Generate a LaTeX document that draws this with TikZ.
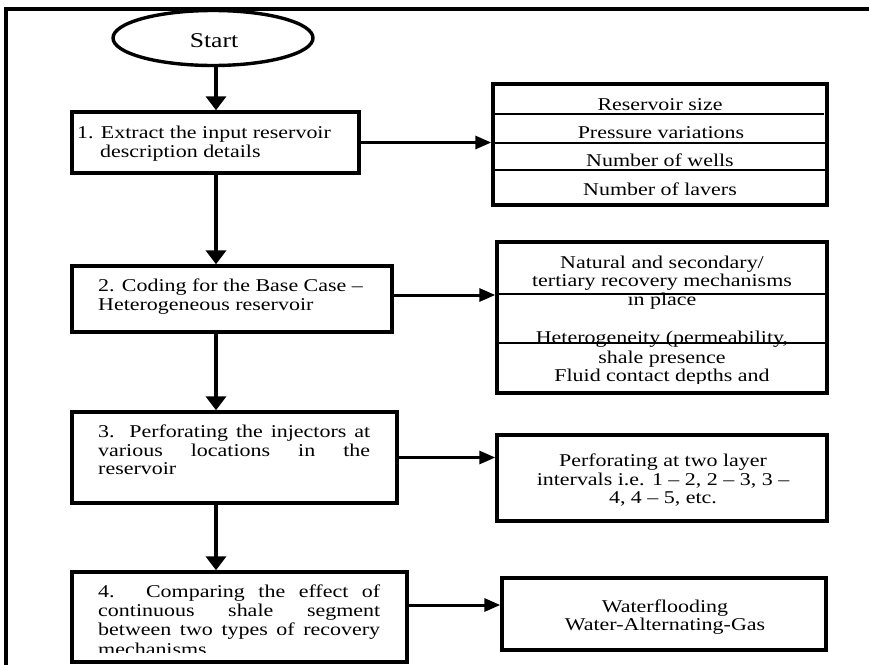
\documentclass[tikz,border=0pt]{standalone}
\usepackage{fontspec}
\setmainfont{Liberation Serif}[FakeStretch=1.22]
\usetikzlibrary{arrows.meta,shapes.geometric}
\tikzset{
  boxline/.style={draw, line width=3.4pt, inner sep=0pt},
  flowbox/.style={boxline, rectangle},
  txt/.style={inner sep=0pt, font=\fontsize{18}{19}\selectfont},
  divider/.style={line width=2.8pt},
  varrow/.style={line width=3.6pt, -{Triangle[width=20pt,length=14pt]}},
  harrow/.style={line width=3pt, -{Triangle[width=13pt,length=16pt]}},
  frameline/.style={line width=3.4pt}
}
\begin{document}
\begin{tikzpicture}[x=1pt,y=-1pt]
\useasboundingbox (0,0) rectangle (869,664);
\clip (0,0) rectangle (869,664);
% outer frame
\draw[frameline] (6,680) -- (6,9) -- (890,9);
% nodes
\node[boxline, ellipse, minimum width=200pt, minimum height=55pt] (start) at (213,38) {};
\node[txt, anchor=base, font=\fontsize{21}{22}\selectfont] (starttxt) at (214,47) {Start};

\node[flowbox, minimum width=287pt, minimum height=61pt] (b1) at (215.5,142.5) {};
\node[flowbox, minimum width=334pt, minimum height=121pt] (l1) at (660,144.5) {};
\node[flowbox, minimum width=320pt, minimum height=66pt] (b2) at (232,299) {};
\node[flowbox, minimum width=330pt, minimum height=151pt] (l2) at (662,317.5) {};
\node[flowbox, minimum width=325pt, minimum height=91pt] (b3) at (234.5,457.5) {};
\node[flowbox, minimum width=330pt, minimum height=86pt] (l3) at (662,478) {};
\node[flowbox, minimum width=335pt, minimum height=90pt] (b4) at (239.5,617) {};
\node[flowbox, minimum width=324pt, minimum height=72pt] (l4) at (664,614) {};

% dividers
\draw[divider] (l1.west |- 0,114) -- ([xshift=-5pt]l1.east |- 0,114);
\draw[divider] (l1.west |- 0,143) -- (l1.east |- 0,143);
\draw[divider] (l1.west |- 0,170) -- (l1.east |- 0,170);
\draw[divider] (l2.west |- 0,294) -- (l2.east |- 0,294);
\draw[divider] (l2.west |- 0,343) -- (l2.east |- 0,343);

% box texts
\node[txt, anchor=base west] (t1a) at (77,138) {1. Extract the input reservoir};
\node[txt, anchor=base west] (t1b) at (100,157) {description details};
\node[txt, anchor=base west] (t2a) at (98,291) {2. Coding for the Base Case --};
\node[txt, anchor=base west] (t2b) at (98,310) {Heterogeneous reservoir};
\node[txt, anchor=base west] (t3a) at (98,437) {\makebox[272pt][s]{3. Perforating the injectors at}};
\node[txt, anchor=base west] (t3b) at (98,456) {\makebox[272pt][s]{various locations in the}};
\node[txt, anchor=base west] (t3c) at (98,474) {reservoir};
\node[txt, anchor=base west] (t4a) at (98,597) {\makebox[282pt][s]{4. Comparing the effect of}};
\node[txt, anchor=base west] (t4b) at (98,616) {\makebox[282pt][s]{continuous shale segment}};
\node[txt, anchor=base west] (t4c) at (98,635) {\makebox[282pt][s]{between two types of recovery}};
\begin{scope}
\clip (80,640) rectangle (400,652);
\node[txt, anchor=base west] (t4d) at (98,655) {mechanisms};
\end{scope}

% list texts
\node[txt, anchor=base] (r1) at (660,110) {Reservoir size};
\node[txt, anchor=base] (r2) at (661,138) {Pressure variations};
\node[txt, anchor=base] (r3) at (660,166) {Number of wells};
\node[txt, anchor=base] (r4) at (660,195) {Number of lavers};

\node[txt, anchor=base] (n1) at (662,268) {Natural and secondary/};
\node[txt, anchor=base] (n2) at (662,286) {tertiary recovery mechanisms};
\node[txt, anchor=base] (n3) at (662,305) {in place};
\node[txt, anchor=base] (n4) at (662,343) {Heterogeneity (permeability,};
\node[txt, anchor=base] (n5) at (662,363) {shale presence};
\begin{scope}
\clip (500,366) rectangle (825,383);
\node[txt, anchor=base] (n6) at (662,381) {Fluid contact depths and};
\end{scope}

\node[txt, anchor=base] (p1) at (663,466) {Perforating at two layer};
\node[txt, anchor=base] (p2) at (663,485) {intervals i.e. 1 -- 2, 2 -- 3, 3 --};
\node[txt, anchor=base] (p3) at (663,503) {4, 4 -- 5, etc.};

\node[txt, anchor=base] (w1) at (665,612) {Waterflooding};
\node[txt, anchor=base] (w2) at (665,630) {Water-Alternating-Gas};

% connectors
\coordinate (ax) at (216,0);
\draw[varrow] (start.south -| ax) -- (b1.north -| ax);
\draw[varrow] (b1.south -| ax) -- (b2.north -| ax);
\draw[varrow] (b2.south -| ax) -- (b3.north -| ax);
\draw[varrow] (b3.south -| ax) -- (b4.north -| ax);

\draw[harrow] (b1.east) -- (b1.east -| l1.west);
\draw[harrow] ([yshift=4pt]b2.east) -- ([yshift=4pt]b2.east -| l2.west);
\draw[harrow] (b3.east) -- (b3.east -| l3.west);
\draw[harrow] ([yshift=12pt]b4.east) -- ([yshift=12pt]b4.east -| l4.west);
\end{tikzpicture}
\end{document}
